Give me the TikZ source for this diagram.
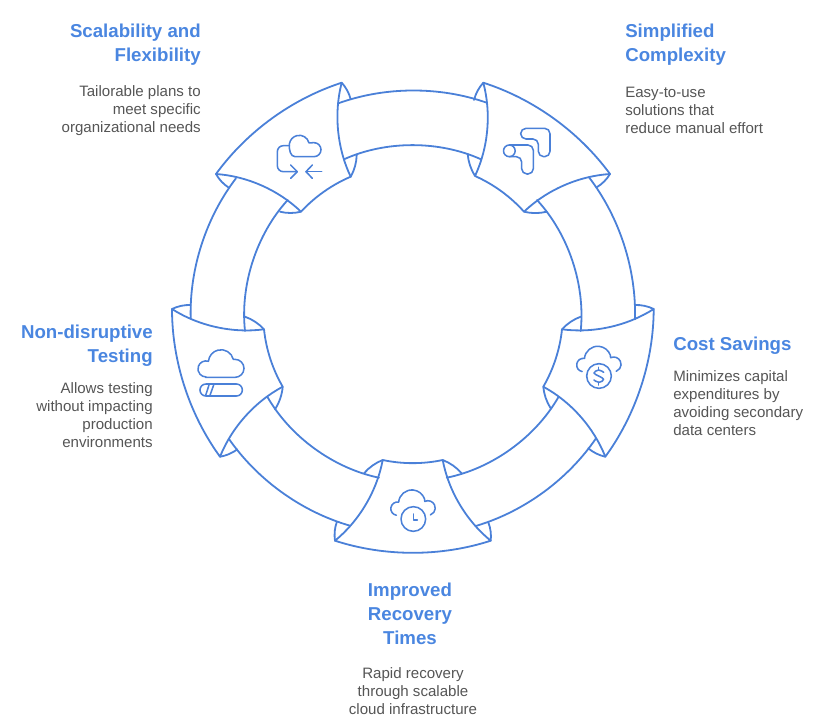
\documentclass[tikz,border=0pt]{standalone}
\usepackage{fontspec}
\setmainfont{Liberation Sans}
\definecolor{ringblue}{HTML}{4A80D8}
\definecolor{titleblue}{HTML}{4A86E0}
\definecolor{bodygrey}{HTML}{555555}
\tikzset{
  ringline/.style={draw=ringblue,line width=1.35pt,line join=round,line cap=round,looseness=0.86},
  iconline/.style={draw=ringblue,line width=1.15pt,line join=round,line cap=round},
  titletext/.style={inner sep=0pt,text=titleblue,font=\fontsize{14pt}{18pt}\selectfont\bfseries},
  bodytext/.style={inner sep=0pt,text=bodygrey,font=\fontsize{11.3pt}{13.5pt}\selectfont},
  iconzoom/.style={shift={#1},scale=1/3}
}
% p q r s, then the ends of the four small flaps
\newcommand{\ringpanel}[8]{%
  \draw[ringline,fill=white] #1 to[bend left=18] #2 to[bend right=20] #3 to[bend right=12] #4 to[bend right=20] #1 -- cycle;
  \draw[ringline] #2 to[bend left=14] #5;
  \draw[ringline] #3 to[bend right=14] #6;
  \draw[ringline] #4 to[bend left=14] #7;
  \draw[ringline] #1 to[bend right=14] #8;
}
\newcommand{\ringband}[4]{%
  \draw[ringline] #1 to[bend left=19.5] #2;
  \draw[ringline] #3 to[bend left=24.3] #4;
}
% open cloud above a round badge, in reference zoom units
\newcommand{\opencloud}{%
  \draw[iconline] (246.5,244.7) arc[start angle=100,end angle=280,radius=20]
    arc[start angle=185,end angle=340,radius=40]
    -- ++(1,8) arc[start angle=245,end angle=430,radius=22];
}
\begin{document}
\begin{tikzpicture}[x=0.75pt,y=-0.75pt]
\useasboundingbox (0,0) rectangle (817,722);
% panels
\ringpanel{(216,174)}{(341.7,82.7)}{(350.7,176.7)}{(301,211.7)}{(350.7,99.3)}{(356.7,155)}{(280,211.7)}{(228.3,187.3)}
\ringpanel{(483.3,82.7)}{(610,174)}{(524,211.7)}{(475,176)}{(596.7,187.3)}{(546.7,211.7)}{(467.7,154)}{(474,100)}
\ringpanel{(653.7,309)}{(605.3,456.7)}{(543.3,386.7)}{(562,329.3)}{(588.3,448.3)}{(550.7,408.3)}{(580.7,316.7)}{(635,305)}
\ringpanel{(490.7,540.7)}{(335,540.7)}{(382.7,460)}{(442.7,460)}{(336.7,522.3)}{(364,473.3)}{(461.7,473.3)}{(488.3,522.3)}
\ringpanel{(220,456.7)}{(172,309)}{(264,329.3)}{(282.7,386.7)}{(190.7,305)}{(245,316.7)}{(275,409.3)}{(237.3,449.3)}
% bands
\ringband{(338.3,103.3)}{(486.7,102.7)}{(344,159.3)}{(481,159.3)}
\ringband{(589,177.3)}{(635,319.3)}{(537,200)}{(580.7,331)}
\ringband{(596,438.3)}{(476.7,525.7)}{(558.3,397.3)}{(446.7,477.7)}
\ringband{(350,525.7)}{(229,439)}{(379,477.7)}{(267.3,396.7)}
\ringband{(190.7,318.3)}{(236,178.3)}{(245,331)}{(287.7,200)}
% icon: scalability
\begin{scope}[iconzoom={(200,70)}]
\draw[iconline] (285,260) -- (342,260) arc[start angle=90,end angle=-90,radius=21] -- (327,218.7)
  arc[start angle=-14,end angle=-170,radius=30] .. controls (266,240) and (272,260) .. (285,260) -- cycle;
\draw[iconline,rounded corners=4.5pt] (268,227) -- (232,227) -- (232,305) -- (290,305);
\draw[iconline] (272,285) -- (292,305) -- (272,325);
\draw[iconline] (365,305) -- (318,305);
\draw[iconline] (337,285) -- (318,305) -- (337,325);
\end{scope}
% icon: simplified
\begin{scope}[iconzoom={(400,70)}]
\draw[iconline,rounded corners=4pt] (362,175) -- (450,175) -- (450,260) -- (415,260) -- (415,207) -- (362,207) -- cycle;
\draw[iconline,rounded corners=4pt] (328,225) -- (400,225) -- (400,312) -- (365,312) -- (365,260) -- (328,260);
\draw[iconline] (328,242.5) circle[radius=17.5];
\end{scope}
% icon: cost
\begin{scope}[iconzoom={(500,290)}]
\opencloud
\draw[iconline] (297,258) circle[radius=37];
\draw[iconline] plot[smooth,tension=0.7] coordinates {(311,247) (296,240) (282,249) (296,258) (311,268) (297,277) (282,270)};
\draw[iconline] (296,232) -- (296,240) (296,277) -- (296,285);
\end{scope}
% icon: recovery
\begin{scope}[iconzoom={(320,440)}]
\begin{scope}[shift={(-17.5,-19)}]
\opencloud
\end{scope}
\draw[iconline] (280,237) circle[radius=37];
\draw[iconline] (280,222) -- (280,240) -- (292,240);
\end{scope}
% icon: testing
\begin{scope}[iconzoom={(160,290)}]
\draw[iconline] (137,262) -- (225,262) arc[start angle=90,end angle=-90,radius=27] -- (220,208)
  arc[start angle=-14,end angle=-175,radius=38]
  arc[start angle=-72,end angle=-270,radius=24] -- cycle;
\draw[iconline,rounded corners=4.4pt] (120,282) rectangle (247,318);
\draw[iconline] (137,316) -- (147,285) (150,316) -- (161,285);
\end{scope}
% texts
\node[titletext,align=right,anchor=east] (t1) at (201,45) {Scalability and\\Flexibility};
\node[bodytext,align=right,anchor=east] (d1) at (201,110.5) {Tailorable plans to\\meet specific\\organizational needs};
\node[titletext,align=left,anchor=west] (t2) at (625,45) {Simplified\\Complexity};
\node[bodytext,align=left,anchor=west] (d2) at (625,110) {Easy-to-use\\solutions that\\reduce manual effort};
\node[titletext,align=left,anchor=west] (t3) at (673,346) {Cost Savings};
\node[bodytext,align=left,anchor=west] (d3) at (673,403) {Minimizes capital\\expenditures by\\avoiding secondary\\data centers};
\node[titletext,align=center] (t4) at (410,614) {Improved\\Recovery\\Times};
\node[bodytext,align=center] (d4) at (413,691) {Rapid recovery\\through scalable\\cloud infrastructure};
\node[titletext,align=right,anchor=east] (t5) at (153,346) {Non-disruptive\\Testing};
\node[bodytext,align=right,anchor=east] (d5) at (153,415) {Allows testing\\without impacting\\production\\environments};
\end{tikzpicture}
\end{document}
